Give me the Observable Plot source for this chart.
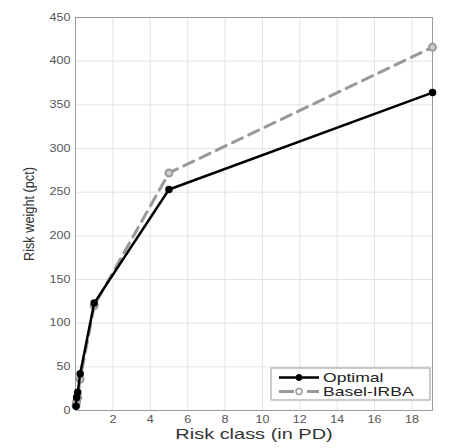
<!DOCTYPE html>
<html>
<head>
<meta charset="utf-8">
<script src="https://cdn.jsdelivr.net/npm/d3@7"></script>
<script src="https://cdn.jsdelivr.net/npm/@observablehq/plot@0.6"></script>
<style>
  html, body { margin: 0; padding: 0; background: #fff; }
  svg { font-family: "Liberation Sans", Arial, sans-serif; }
</style>
</head>
<body>
<div id="chart"></div>
<script>
// Risk classes (PD, in percent)
const riskClass = [0.03, 0.06, 0.12, 0.25, 1.0, 5.0, 19.1];
// Risk weights (pct)
const optimal = [5, 15, 21, 42, 123, 253, 364];
const baselIRBA = [6, 10, 15, 36, 120, 272, 416];
const seriesNames = ["Optimal", "Basel-IRBA"];
const xTicks = [2, 4, 6, 8, 10, 12, 14, 16, 18];
const yTicks = [0, 50, 100, 150, 200, 250, 300, 350, 400, 450];

const optData = riskClass.map((x, i) => ({x, y: optimal[i]}));
const baselData = riskClass.map((x, i) => ({x, y: baselIRBA[i]}));

const plot = Plot.plot({
  width: 453,
  height: 448,
  marginLeft: 75,
  marginRight: 21,
  marginTop: 17,
  marginBottom: 38,
  style: {fontFamily: "Liberation Sans, Arial, sans-serif", background: "#fff"},
  x: {domain: [0, 19.1]},
  y: {domain: [0, 450]},
  marks: [
    Plot.gridX(xTicks, {stroke: "#e3e3e3", strokeOpacity: 1, strokeWidth: 1}),
    Plot.gridY(yTicks, {stroke: "#e3e3e3", strokeOpacity: 1, strokeWidth: 1}),
    Plot.frame({stroke: "#9a9a9a", strokeWidth: 1}),
    Plot.axisX(xTicks, {tickSize: 0, tickPadding: 5, fontSize: 10, color: "#555",
      label: "Risk class (in PD)", labelAnchor: "center", labelOffset: 28}),
    Plot.axisY(yTicks, {tickSize: 0, tickPadding: 5, fontSize: 10, color: "#555",
      label: "Risk weight (pct)", labelAnchor: "center", labelOffset: 51}),
    Plot.line(baselData, {x: "x", y: "y", stroke: "#999", strokeWidth: 3, strokeDasharray: "11,7"}),
    Plot.dot(baselData, {x: "x", y: "y", r: 3.5, stroke: "#999", strokeWidth: 2, fill: "#ccc"}),
    Plot.line(optData, {x: "x", y: "y", stroke: "#000", strokeWidth: 2.5}),
    Plot.dot(optData, {x: "x", y: "y", r: 3, stroke: "#000", strokeWidth: 1.5, fill: "#000"})
  ]
});

document.getElementById("chart").appendChild(plot);

const svg = d3.select(plot);
// stretch text horizontally (reference glyphs are wide)
function stretch(sel, factor) {
  sel.each(function() {
    const w = this.getComputedTextLength();
    this.setAttribute("textLength", (w * factor).toFixed(1));
    this.setAttribute("lengthAdjust", "spacingAndGlyphs");
  });
}
// Axis labels: remove arrows, style
const xl = svg.selectAll("[aria-label='x-axis label'] text")
  .text("Risk class (in PD)").style("font-size", "15px").attr("fill", "#333");
stretch(xl, 1.33);
svg.selectAll("[aria-label='y-axis label'] text")
  .text("Risk weight (pct)").style("font-size", "14px").attr("fill", "#333")
  .attr("textLength", 94).attr("lengthAdjust", "spacingAndGlyphs");
stretch(svg.selectAll("[aria-label='x-axis tick label'] text"), 1.25);
stretch(svg.selectAll("[aria-label='y-axis tick label'] text"), 1.25);

// Legend (MATLAB-style, inside plot at lower right)
const lg = svg.append("g").attr("transform", "translate(271,368)").attr("text-anchor", "start");
lg.append("rect").attr("width", 159).attr("height", 32).attr("fill", "#fff").attr("stroke", "#999").attr("stroke-width", 1);
// Optimal
lg.append("line").attr("x1", 8).attr("x2", 48).attr("y1", 9.5).attr("y2", 9.5).attr("stroke", "#000").attr("stroke-width", 2.5);
lg.append("circle").attr("cx", 28).attr("cy", 9.5).attr("r", 3).attr("fill", "#000").attr("stroke", "#000");
const t1 = lg.append("text").attr("x", 52).attr("y", 14).attr("font-size", 13.5).attr("fill", "#222").attr("text-anchor", "start").text(seriesNames[0]);
// Basel-IRBA
lg.append("line").attr("x1", 8).attr("x2", 48).attr("y1", 23.5).attr("y2", 23.5).attr("stroke", "#999").attr("stroke-width", 3).attr("stroke-dasharray", "15,5,3,5,12");
lg.append("circle").attr("cx", 28).attr("cy", 23.5).attr("r", 3).attr("fill", "#fff").attr("stroke", "#999").attr("stroke-width", 1.5);
const t2 = lg.append("text").attr("x", 52).attr("y", 28).attr("font-size", 13.5).attr("fill", "#222").attr("text-anchor", "start").text(seriesNames[1]);
stretch(t1, 1.3);
stretch(t2, 1.3);
</script>
</body>
</html>
